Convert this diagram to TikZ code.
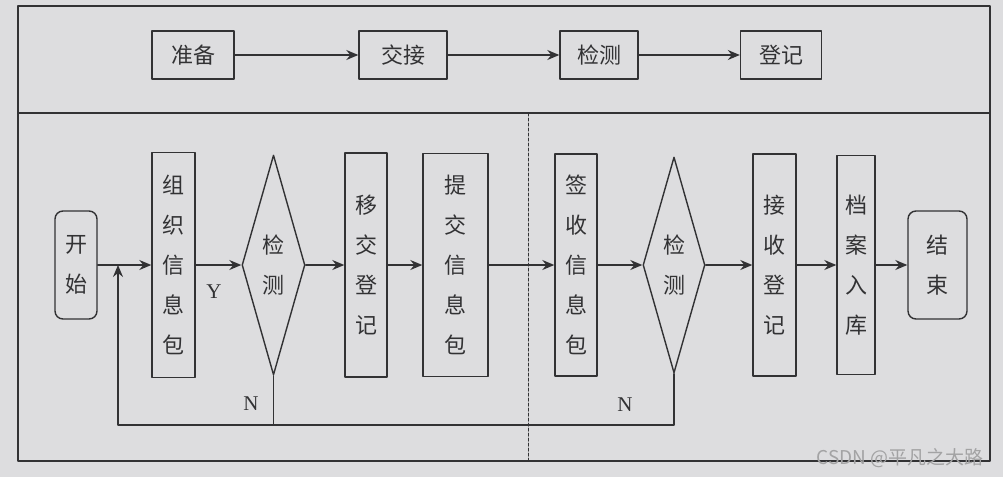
\documentclass[tikz,border=0pt]{standalone}
\usepackage{fontspec}
\setmainfont{Liberation Serif}
\newfontfamily\cjk{Noto Sans CJK SC}
\usetikzlibrary{arrows.meta}
\usetikzlibrary{shapes.geometric}

\definecolor{paper}{RGB}{221,221,223}
\definecolor{ink}{RGB}{50,50,52}

\begin{document}
\begin{tikzpicture}[
				x=1pt, y=-1pt,
				line cap=round,
				line join=round,
				every node/.style={font=\cjk\fontsize{22}{40}\selectfont, text=ink},
				box/.style={draw=ink, line width=1.4pt, rectangle, inner sep=0pt, align=center},
				term/.style={box, rounded corners=8pt},
				decide/.style={draw=ink, line width=1.4pt, diamond, aspect=0.29, inner sep=0pt, align=center},
				flow/.style={draw=ink, line width=1.4pt, -{Stealth[length=12pt, width=10pt, inset=4pt]}},
				wire/.style={draw=ink, line width=1.4pt},
				yn/.style={font=\fontsize{21}{24}\selectfont}
				]
				% Paper
				\fill[paper] (0,0) rectangle (1003,477);
				\useasboundingbox (0,0) rectangle (1003,477);
				
				% Frame and divider
				\draw[wire] (18,6) rectangle (990,461);
				\draw[wire] (18,113) -- (990,113);
				\draw[draw=ink, line width=1pt, densely dashed] (528,113) -- (528,461);
				
				% Top row
				\node[box, minimum width=82pt, minimum height=48pt] (prep) at (193,55) {准备};
				\node[box, minimum width=88pt, minimum height=48pt] (hand) at (403,55) {交接};
				\node[box, minimum width=78pt, minimum height=48pt] (test) at (599,55) {检测};
				\node[box, minimum width=81pt, minimum height=48pt] (reg) at (781,55) {登记};
				\draw[flow] (prep) -- (hand);
				\draw[flow] (hand) -- (test);
				\draw[flow] (test) -- (reg);
				
				% Left half
				\node[term, minimum width=42pt, minimum height=108pt] (start) at (76,265) {开\\始};
				\node[box, minimum width=43pt, minimum height=225pt] (pack) at (173.5,265) {组\\织\\信\\息\\包};
				\node[decide, minimum width=63pt, minimum height=220pt] (chkA) at (273.5,265) {检\\测};
				\node[box, minimum width=42pt, minimum height=224pt] (move) at (366,265) {移\\交\\登\\记};
				\node[box, minimum width=65pt, minimum height=223pt] (send) at (455.5,265) {提\\交\\信\\息\\包};
				
				% Right half
				\node[box, minimum width=42pt, minimum height=222pt] (sign) at (576,265) {签\\收\\信\\息\\包};
				\node[decide, minimum width=62pt, minimum height=216pt] (chkB) at (674,265) {检\\测};
				\node[box, minimum width=43pt, minimum height=222pt] (recv) at (774.5,265) {接\\收\\登\\记};
				\node[box, minimum width=38pt, minimum height=219pt] (store) at (856,265) {档\\案\\入\\库};
				\node[term, minimum width=59pt, minimum height=108pt] (stop) at (937.5,265) {结\\束};
				
				% Main flow
				\draw[flow] (start) -- (pack);
				\draw[flow] (pack) -- (chkA);
				\draw[flow] (chkA) -- (move);
				\draw[flow] (move) -- (send);
				\draw[flow] (send) -- (sign);
				\draw[flow] (sign) -- (chkB);
				\draw[flow] (chkB) -- (recv);
				\draw[flow] (recv) -- (store);
				\draw[flow] (store) -- (stop);
				
				% Return loop
				\coordinate (loopL) at (118,425);
				\coordinate (join) at (118,265);
				\draw[wire] (chkA.south) -- (chkA.south |- loopL);
				\draw[flow] (chkB.south) |- (loopL) -- (join);
				
				% Labels
				\node[yn] (yes) at (214,292) {Y};
				\node[yn] (noA) at (251,404) {N};
				\node[yn] (noB) at (625,405) {N};
				\node[font=\cjk\fontsize{19}{22}\selectfont, text=ink!45] (mark) at (900,458) {CSDN @平凡之大路};
			\end{tikzpicture}
\end{document}
